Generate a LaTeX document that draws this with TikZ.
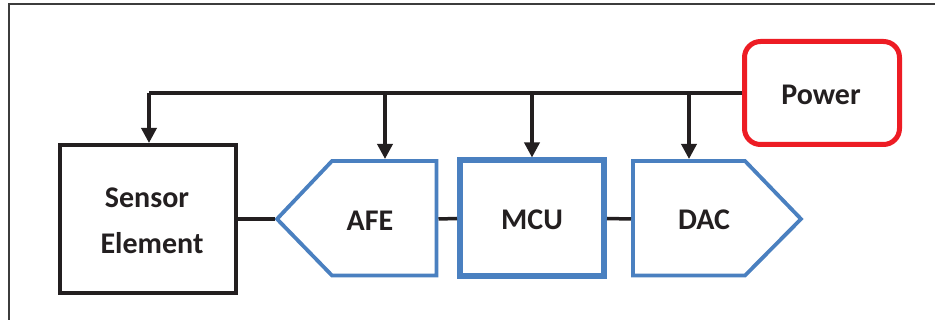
\documentclass[tikz,border=0pt]{standalone}
\usepackage{fontspec}
\newfontfamily\labfont{Carlito}
\usetikzlibrary{arrows.meta}
\definecolor{ink}{RGB}{35,31,32}
\definecolor{boxblue}{RGB}{74,128,192}
\definecolor{pwred}{RGB}{237,28,36}
\definecolor{framegray}{RGB}{60,60,60}
\tikzset{
  lab/.style={font=\labfont\bfseries\fontsize{30}{34}\selectfont, text=ink, inner sep=0pt, anchor=base},
  blackbox/.style={draw=ink, line width=4pt, fill=white, minimum width=176pt, minimum height=148pt, inner sep=0pt},
  mcubox/.style={draw=boxblue, line width=6pt, fill=white, minimum width=144pt, minimum height=116pt, inner sep=0pt},
  powerbox/.style={draw=pwred, line width=5pt, rounded corners=16pt, fill=white, minimum width=155pt, minimum height=103pt, inner sep=0pt},
  blueshape/.style={draw=boxblue, line width=3.8pt, line join=miter},
  wire/.style={draw=ink, line width=3.5pt},
  feed/.style={wire, -{Triangle[length=15pt,width=15pt]}}
}
\begin{document}
\begin{tikzpicture}[x=1pt, y=-1pt]
\useasboundingbox (0,0) rectangle (935,320);
\fill[white] (0,0) rectangle (935,320);
% frame
\draw[framegray, line width=1.5pt] (9,320) -- (9,4) -- (935,4);

% boxes
\node[blackbox] (sensor) at (148,219) {};
\node[mcubox] (mcu) at (532,218.5) {};
\node[powerbox] (power) at (822,93) {};

% AFE pentagon (pointing left)
\draw[blueshape] (277,219) -- (332,161) -- (436.5,161) -- (436.5,275.5) -- (332,275.5) -- cycle;
\coordinate (afetip) at (275,219);
\coordinate (aferight) at (438.5,219);
\coordinate (afetop) at (385,159);

% DAC pentagon (pointing right)
\draw[blueshape] (633,161) -- (745,161) -- (801,219) -- (745,275.5) -- (633,275.5) -- cycle;
\coordinate (dacleft) at (631,219);
\coordinate (dactop) at (689,159);

% labels
\node[lab] (sensortxt) at (147,208) {Sensor};
\node[lab] (elementtxt) at (152,254) {Element};
\node[lab] (afetxt) at (370,231) {AFE};
\node[lab] (mcutxt) at (532,230) {MCU};
\node[lab] (dactxt) at (704,230) {DAC};
\node[lab] (powertxt) at (821,105) {Power};

% power bus
\coordinate (busleft) at (149,93);
\coordinate (busafe) at (385,93);
\coordinate (busmcu) at (532,93);
\coordinate (busdac) at (689,93);
\draw[wire] (power.west) -- (busleft);
\draw[feed] (busleft) -- (sensor.north -| busleft);
\draw[feed] (busafe) -- (afetop);
\draw[feed] (busmcu) -- (mcu.north);
\draw[feed] (busdac) -- (dactop);

% signal chain links
\draw[wire] (sensor.east) -- (afetip);
\draw[wire] (aferight) -- (mcu.west);
\draw[wire] (mcu.east) -- (dacleft);
\end{tikzpicture}
\end{document}
